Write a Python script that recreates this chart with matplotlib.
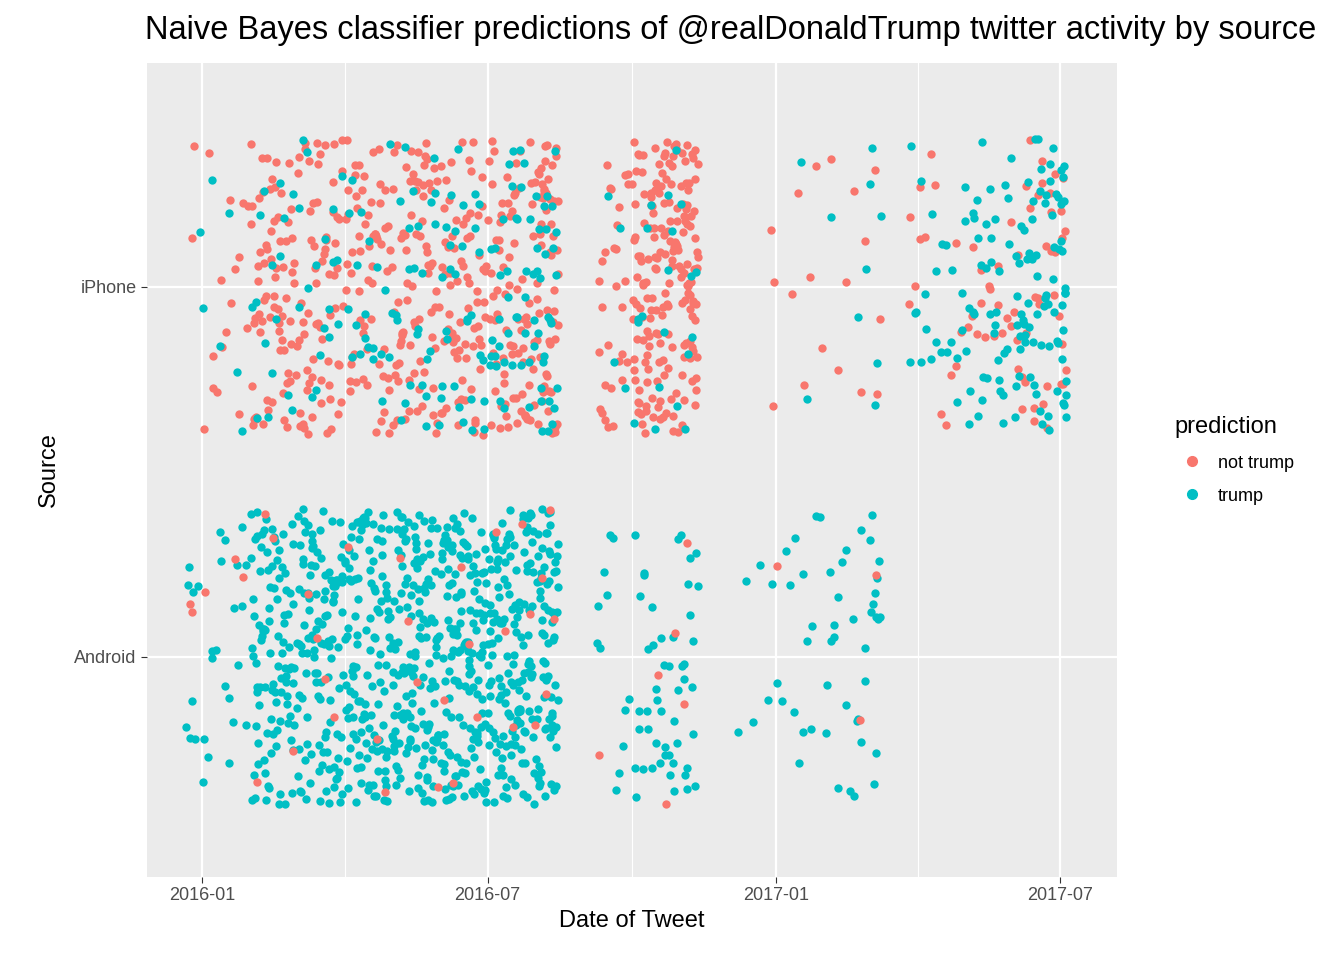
import numpy as np
import matplotlib.pyplot as plt
import matplotlib.dates as mdates
from matplotlib.lines import Line2D

plt.rcParams['font.family'] = ['Liberation Sans', 'DejaVu Sans']

# segments of activity: start, end, not-trump count, trump count
iphone_start = ["2015-12-25","2016-01-01","2016-02-01","2016-03-01","2016-04-01","2016-05-01","2016-06-01","2016-07-01","2016-08-01",
                "2016-09-10","2016-10-01","2016-11-01","2016-12-28","2017-01-10","2017-02-01","2017-03-01","2017-03-25","2017-05-01","2017-06-01","2017-07-01"]
iphone_end   = ["2015-12-31","2016-01-31","2016-02-29","2016-03-31","2016-04-30","2016-05-31","2016-06-30","2016-07-31","2016-08-15",
                "2016-09-30","2016-10-31","2016-11-12","2017-01-02","2017-01-31","2017-02-28","2017-03-10","2017-04-30","2017-05-31","2017-06-30","2017-07-05"]
iphone_red   = [2, 16, 70, 68, 62, 75, 72, 78, 55, 30, 130, 60, 3, 6, 6, 3, 14, 16, 30, 8]
iphone_blue  = [1, 6, 16, 18, 20, 26, 30, 38, 28, 4, 14, 6, 0, 2, 3, 5, 22, 40, 60, 18]

android_start = ["2015-12-22","2016-01-01","2016-02-01","2016-03-01","2016-04-01","2016-05-01","2016-06-01","2016-07-01","2016-08-01",
                 "2016-09-08","2016-10-01","2016-11-01","2016-12-05","2017-01-01","2017-02-01","2017-03-01"]
android_end   = ["2015-12-31","2016-01-31","2016-02-29","2016-03-31","2016-04-30","2016-05-31","2016-06-30","2016-07-31","2016-08-15",
                 "2016-09-30","2016-10-31","2016-11-12","2016-12-31","2017-01-31","2017-02-28","2017-03-08"]
android_red   = [2, 3, 4, 4, 3, 4, 5, 6, 4, 1, 3, 2, 0, 1, 1, 1]
android_blue  = [8, 20, 100, 115, 120, 135, 140, 140, 70, 12, 34, 16, 6, 14, 20, 12]

RED, BLUE = "#F8766D", "#00BFC4"

fig = plt.figure(figsize=(13.44, 9.6), dpi=100)
ax = fig.add_axes([147/1344, 83/960, 970/1344, 814/960])
ax.set_facecolor("#EBEBEB")

# deterministic spreading inside each segment (jitter-like placement)
phi1, phi2, phi3 = 0.8191725134, 0.6710436067, 0.5497004779
k = 0
def spread(starts, ends, counts, base, color):
    global k
    xs, ys = [], []
    for s, e, n in zip(starts, ends, counts):
        a = mdates.datestr2num(s); b = mdates.datestr2num(e)
        for i in range(n):
            k += 1
            xs.append(a + (b - a) * ((0.5 + k * phi1) % 1))
            ys.append(base - 0.4 + 0.8 * ((0.3 + k * phi2 + (k * k) * phi3 * 0.01) % 1))
    ax.scatter(xs, ys, s=36, color=color, linewidths=0, zorder=3)

spread(iphone_start, iphone_end, iphone_red, 2, RED)
spread(iphone_start, iphone_end, iphone_blue, 2, BLUE)
spread(android_start, android_end, android_blue, 1, BLUE)
spread(android_start, android_end, android_red, 1, RED)

ax.set_xlim(mdates.datestr2num("2015-11-27"), mdates.datestr2num("2017-08-06"))
ax.set_ylim(0.405, 2.605)
ax.set_yticks([1, 2]); ax.set_yticklabels(["Android", "iPhone"])
major = ["2016-01-01", "2016-07-01", "2017-01-01", "2017-07-01"]
ax.set_xticks([mdates.datestr2num(d) for d in major])
ax.set_xticklabels(["2016-01", "2016-07", "2017-01", "2017-07"])
ax.set_xticks([mdates.datestr2num(d) for d in ["2016-04-01", "2016-10-01", "2017-04-01"]], minor=True)
ax.grid(True, which="major", color="white", lw=1.6, zorder=0)
ax.grid(True, which="minor", axis="x", color="white", lw=0.8, zorder=0)
ax.set_axisbelow(True)
for sp in ax.spines.values():
    sp.set_visible(False)
ax.tick_params(which="major", labelsize=13, colors="#4D4D4D", length=4, color="#333333")
ax.tick_params(which="minor", length=0)
ax.set_xlabel("Date of Tweet", fontsize=17, labelpad=4)
ax.set_ylabel("Source", fontsize=17, labelpad=10)
fig.text(145/1344, 1 - 30/960, "Naive Bayes classifier predictions of @realDonaldTrump twitter activity by source",
         fontsize=23.5, va="center", ha="left")

h = [Line2D([], [], marker="o", ls="", color=c, markersize=7) for c in (RED, BLUE)]
leg = fig.legend(h, ["not trump", "trump"], loc="upper left", bbox_to_anchor=(1158/1344, 1 - 400/960),
                 title="prediction", frameon=False, fontsize=13, title_fontsize=17, handletextpad=0.4,
                 labelspacing=0.9)
leg._legend_box.align = "left"
fig.savefig("out.png", dpi=100)
